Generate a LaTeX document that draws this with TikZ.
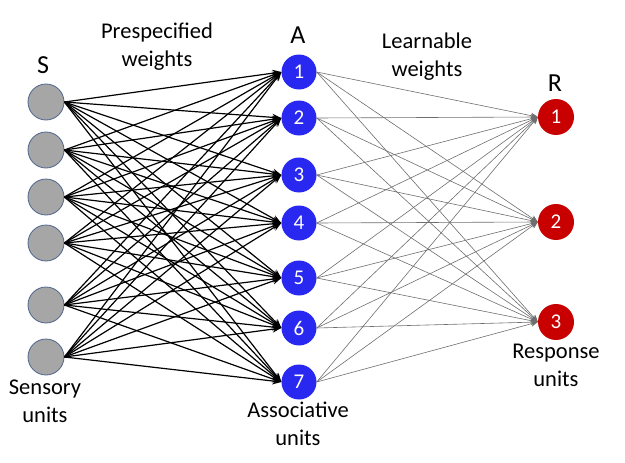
\documentclass[tikz,border=0pt]{standalone}
\usepackage{fontspec}
\setmainfont{Carlito}
\usetikzlibrary{arrows.meta}
\definecolor{sgray}{RGB}{166,166,166}
\definecolor{sedge}{RGB}{80,100,140}
\definecolor{ablue}{RGB}{40,40,240}
\definecolor{rred}{RGB}{200,0,0}
\definecolor{lgray}{RGB}{110,110,110}
\tikzset{
  sunit/.style={circle, fill=sgray, draw=sedge, line width=0.8pt, minimum size=36pt, inner sep=0pt},
  aunit/.style={circle, fill=ablue, draw=none, minimum size=35pt, inner sep=0pt, text=white, font=\fontsize{21}{21}\selectfont},
  runit/.style={circle, fill=rred, draw=none, minimum size=36pt, inner sep=0pt, text=white, font=\fontsize{21}{21}\selectfont},
  lbl/.style={align=center, font=\fontsize{22.5}{28}\selectfont, inner sep=0pt},
  big/.style={font=\fontsize{26}{26}\selectfont, inner sep=0pt},
  fixed/.style={line width=1.2pt, black, -{Stealth[length=9pt,width=7pt]}},
  learn/.style={line width=0.6pt, lgray, -{Stealth[length=7pt,width=6pt]}}
}
\begin{document}
\begin{tikzpicture}[x=1pt,y=-1pt]
\useasboundingbox (0,0) rectangle (625,463);
% sensory units
\foreach \i/\y in {1/102,2/150,3/197,4/243,5/305,6/357}
  \node[sunit] (s\i) at (46,\y) {};
% associative units
\foreach \i/\y in {1/72,2/118,3/175,4/223,5/278,6/328,7/382}
  \node[aunit] (a\i) at (299,\y) {\i};
% response units
\foreach \i/\y in {1/117,2/222,3/322}
  \node[runit] (r\i) at (556,\y) {\i};
% connectors
\foreach \i in {1,...,6}
  \foreach \j in {1,...,7}
    \draw[fixed] (s\i.east) -- (a\j.west);
\foreach \j in {1,...,7}
  \foreach \k in {1,2,3}
    \draw[learn] (a\j.east) -- (r\k.west);
% labels
\node[big] (ls) at (43,65) {S};
\node[big] (la) at (298,35) {A};
\node[big] (lr) at (555,83) {R};
\node[lbl] (tp) at (157,47) {Prespecified\\weights};
\node[lbl] (tl) at (427,57) {Learnable\\weights};
\node[lbl] (ts) at (45,401) {Sensory\\units};
\node[lbl] (tass) at (298,424) {Associative\\units};
\node[lbl] (tr) at (556,365) {Response\\units};
\end{tikzpicture}
\end{document}
